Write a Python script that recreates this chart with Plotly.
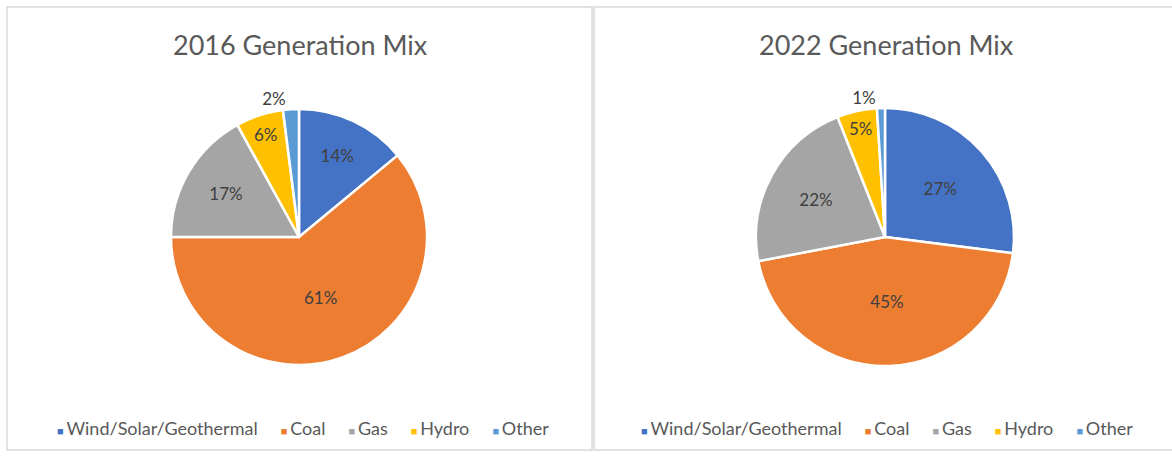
import plotly.graph_objects as go

sources = ["Wind/Solar/Geothermal", "Coal", "Gas", "Hydro", "Other"]
mix_2016 = [14, 61, 17, 6, 2]
mix_2022 = [27, 45, 22, 5, 1]
titles = ["2016 Generation Mix", "2022 Generation Mix"]
colors = ["#4472C4", "#ED7D31", "#A5A5A5", "#FFC000", "#5B9BD5"]

W, H = 1172, 458
FONT = "Lato, Open Sans, sans-serif"

def px_x(v):
    return v / W

def px_y(v):
    return 1 - v / H

fig = go.Figure()

pie_boxes = [(171, 427), (756, 1014)]
for i, (vals, (x0, x1)) in enumerate(zip([mix_2016, mix_2022], pie_boxes)):
    fig.add_trace(go.Pie(
        labels=sources,
        values=vals,
        sort=False,
        direction="clockwise",
        rotation=0,
        marker=dict(colors=colors, line=dict(color="white", width=2.5)),
        texttemplate="%{percent:.0%}",
        textposition=["inside", "inside", "inside", "inside", "outside"],
        insidetextorientation="horizontal",
        textfont=dict(family=FONT, size=17, color="#404040"),
        outsidetextfont=dict(family=FONT, size=17, color="#404040"),
        insidetextfont=dict(family=FONT, size=17, color="#404040"),
        domain=dict(x=[px_x(x0), px_x(x1)], y=[px_y(366), px_y(108)]),
        showlegend=False,
        hoverinfo="label+percent",
    ))

# Excel-style legend line: small colored square right before each label
sep = "&nbsp;" * 5
legend_text = sep.join(
    f"<span style='font-size:11px;color:{c}'>■&nbsp;</span>{n}"
    for n, c in zip(sources, colors)
)

annotations = []
for title, cx in zip(titles, [300, 886]):
    annotations.append(dict(
        text=title, x=px_x(cx), y=px_y(44), xref="paper", yref="paper",
        showarrow=False, xanchor="center", yanchor="middle",
        font=dict(family=FONT, size=27, color="#595959")))
for cx in [303, 887]:
    annotations.append(dict(
        text=legend_text, x=px_x(cx), y=px_y(428), xref="paper", yref="paper",
        showarrow=False, xanchor="center", yanchor="middle",
        font=dict(family=FONT, size=18, color="#595959")))

fig.update_layout(
    width=W, height=H,
    margin=dict(l=0, r=0, t=0, b=0),
    paper_bgcolor="white",
    plot_bgcolor="white",
    font=dict(family=FONT, color="#595959"),
    shapes=[
        dict(type="rect", xref="paper", yref="paper",
             x0=px_x(7), x1=px_x(592), y0=px_y(450), y1=px_y(7),
             line=dict(color="#D9D9D9", width=1.5)),
        dict(type="rect", xref="paper", yref="paper",
             x0=px_x(594), x1=px_x(1180), y0=px_y(450), y1=px_y(7),
             line=dict(color="#D9D9D9", width=1.5)),
    ],
    annotations=annotations,
)

fig.write_html("out.html", config={"displayModeBar": False},
               post_script="document.body.style.margin='0';")
